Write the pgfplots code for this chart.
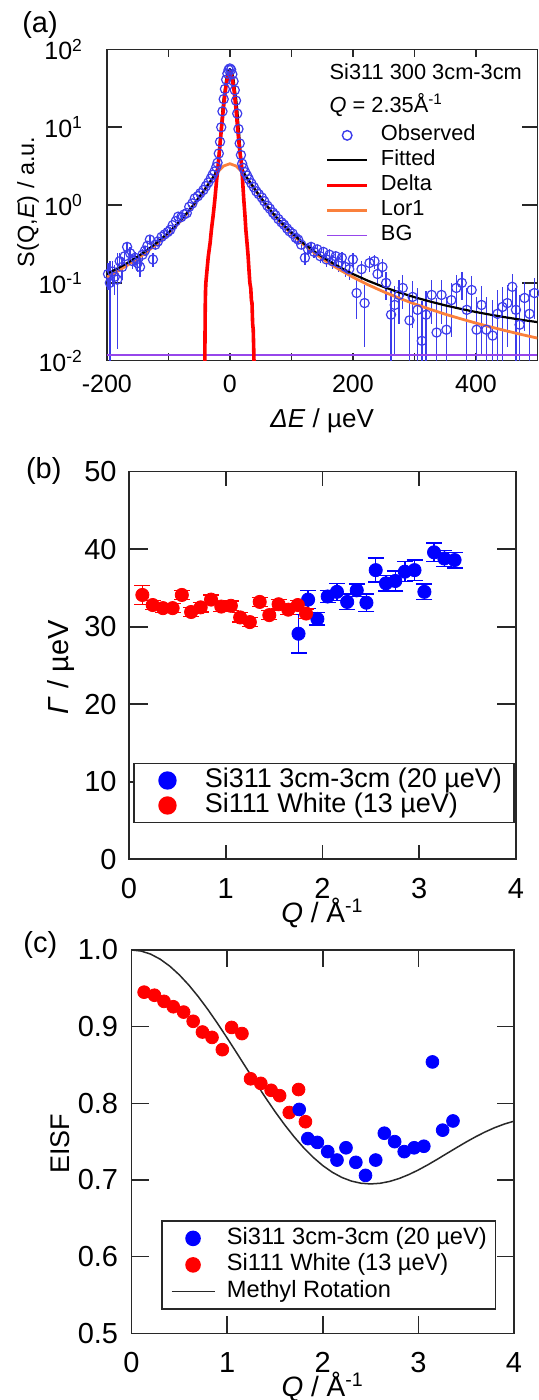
\documentclass[border=0pt]{standalone}
\usepackage{fontspec}
\setmainfont{Liberation Sans}
\setsansfont{Liberation Sans}
\usepackage{pgfplots}
\pgfplotsset{compat=1.18}
\definecolor{obsblue}{RGB}{60,60,235}
\definecolor{lorange}{RGB}{250,128,60}
\definecolor{bgpurple}{RGB}{150,70,235}
\definecolor{ptblue}{RGB}{0,0,255}
\definecolor{ptred}{RGB}{255,0,0}
\definecolor{axgray}{RGB}{40,40,40}

\pgfplotsset{
  panel/.style={scale only axis, anchor=south west,
    axis line style={axgray,line width=0.8pt},
    tick style={axgray,line width=0.8pt}, tick align=inside,
    clip marker paths=false},
}

\begin{document}
\begin{tikzpicture}
\useasboundingbox (0,0) rectangle (269pt,700pt);

% ---------------- (a) spectrum ----------------
\begin{axis}[panel,
  at={(53.4pt,519.65pt)}, width=215.35pt, height=155.6pt,
  ymode=log, xmin=-200, xmax=500, ymin=0.01, ymax=100,
  xtick={-200,-100,0,100,200,300,400}, xticklabels={-200,,0,,200,,400},
  ytick={0.01,0.1,1,10,100},
  yticklabels={10\textsuperscript{-2},10\textsuperscript{-1},10\textsuperscript{0},10\textsuperscript{1},10\textsuperscript{2}},
  yminorticks=false,
  major tick length=7.5pt,
  xtick style={/pgfplots/major tick length=4pt},
  tick label style={font=\fontsize{12.5}{15}\selectfont},
  xticklabel style={anchor=base, yshift=-16.15pt},
  yticklabel style={anchor=east, inner sep=0pt, xshift=-11.75pt},
  xlabel={\textit{ΔE} / µeV},
  xlabel style={at={(axis description cs:0.5,-0.216)}, anchor=base, font=\fontsize{13}{15}\selectfont},
  ylabel={S(Q,\textit{E}) / a.u.},
  ylabel style={at={(axis description cs:-0.183,0.51)}, anchor=center, font=\fontsize{11.7}{14}\selectfont},
  legend style={at={(axis description cs:0.5066,0.759)}, anchor=north west,
    draw=none, fill=none, inner sep=0pt, column sep=6pt, row sep=2pt,
    font=\fontsize{10.9}{12}\selectfont,
    nodes={inner sep=0pt, text height=8pt, text depth=2.5pt}},
  legend cell align=left,
]
\addlegendimage{legend image code/.code={\draw[obsblue,fill=none,line width=0.7pt] (10pt,0pt) circle (2.4pt); \path[draw=none,fill=none] (0pt,0pt) -- (20pt,0pt);}}
\addlegendentry{Observed}
\addlegendimage{legend image code/.code={\draw[black,line width=1.1pt] (0pt,0pt) -- (20pt,0pt);}}
\addlegendentry{Fitted}
\addlegendimage{legend image code/.code={\draw[ptred,line width=1.8pt] (0pt,0pt) -- (20pt,0pt);}}
\addlegendentry{Delta}
\addlegendimage{legend image code/.code={\draw[lorange,line width=1.4pt] (0pt,0pt) -- (20pt,0pt);}}
\addlegendentry{Lor1}
\addlegendimage{legend image code/.code={\draw[bgpurple,line width=0.7pt] (0pt,0pt) -- (20pt,0pt);}}
\addlegendentry{BG}

\addplot[forget plot, only marks, mark=o, mark size=2.3pt, obsblue,
  mark options={line width=0.6pt},
  error bars/.cd, y dir=both, y explicit, error mark=none,
  error bar style={obsblue, line width=0.7pt}]
  table[x=x, y=y, y error plus=ep, y error minus=em] {
x y ep em
-198 0.13 0.05 0.05
-195 0.10 0.09 0.095
-191 0.14 0.05 0.05
-187 0.12 0.05 0.05
-183 0.11 0.13 0.096
-179 0.19 0.05 0.05
-175 0.16 0.05 0.05
-171 0.22 0.045 0.045
-167 0.29 0.045 0.045
-162 0.24 0.045 0.045
-158 0.19 0.04 0.04
-154 0.21 0.04 0.04
-150 0.18 0.04 0.04
-146 0.16 0.04 0.04
-142 0.23 0.04 0.04
-138 0.26 0.04 0.04
-134 0.30 0.04 0.04
-130 0.36 0.04 0.04
-125 0.20 0.04 0.04
-121 0.31 0.04 0.04
-117 0.34 0.04 0.04
-111 0.39 0.04 0.04
-106 0.42 0.04 0.04
-101 0.45 0.04 0.04
-97 0.48 0.04 0.04
-93 0.55 0.04 0.04
-88 0.62 0.04 0.04
-84 0.71 0.04 0.04
-79 0.70 0.04 0.04
-74 0.76 0.04 0.04
-70 0.79 0.04 0.04
-66 0.95 0.05 0.05
-61 1.05 0.05 0.05
-57 1.22 0.05 0.05
-52 1.30 0.05 0.05
-48 1.42 0.05 0.05
-43 1.56 0.05 0.05
-39 1.75 0.05 0.05
-35 1.95 0.05 0.05
-31 2.2 0.06 0.06
-28 2.45 0.06 0.06
-25 2.7 0.06 0.06
-22 3.1 0.07 0.07
-20 3.5 0.07 0.07
-18 4.6 0.08 0.08
-16 6.5 0.1 0.1
-14 10 0.15 0.15
-12 16 0.2 0.2
-10 23 0.3 0.3
-8 31 0.4 0.4
-6 41 0.5 0.5
-4 49 0.6 0.6
-2 55 0.7 0.7
0 57 0.7 0.7
2 55 0.7 0.7
4 48 0.6 0.6
6 39 0.5 0.5
8 30 0.4 0.4
10 22 0.3 0.3
12 15 0.2 0.2
14 9.5 0.15 0.15
16 6.2 0.1 0.1
18 4.4 0.08 0.08
20 3.4 0.07 0.07
22 3.0 0.07 0.07
25 2.65 0.06 0.06
28 2.4 0.06 0.06
31 2.15 0.06 0.06
35 1.9 0.05 0.05
39 1.7 0.05 0.05
43 1.5 0.05 0.05
47 1.38 0.05 0.05
52 1.25 0.05 0.05
56 1.12 0.05 0.05
61 0.98 0.05 0.05
65 0.90 0.05 0.05
70 0.80 0.04 0.04
74 0.74 0.04 0.04
79 0.66 0.04 0.04
84 0.60 0.04 0.04
88 0.56 0.04 0.04
93 0.50 0.04 0.04
97 0.46 0.04 0.04
102 0.43 0.04 0.04
107 0.38 0.04 0.04
111 0.36 0.04 0.04
116 0.31 0.04 0.04
122 0.21 0.04 0.04
127 0.27 0.04 0.04
132 0.29 0.04 0.04
137 0.25 0.04 0.04
142 0.27 0.04 0.04
147 0.22 0.04 0.04
152 0.25 0.04 0.04
157 0.20 0.04 0.04
162 0.23 0.04 0.04
167 0.19 0.04 0.04
172 0.22 0.04 0.04
177 0.18 0.04 0.04
182 0.21 0.04 0.04
188 0.16 0.04 0.04
194 0.15 0.04 0.04
200 0.20 0.04 0.04
206 0.074 0.04 0.04
214 0.15 0.04 0.04
219 0.055 0.04 0.04
227 0.18 0.04 0.04
235 0.19 0.04 0.04
240 0.13 0.04 0.04
248 0.16 0.04 0.04
254 0.10 0.04 0.04
262 0.039 0.04 0.036
268 0.052 0.04 0.04
275 0.07 0.04 0.04
281 0.086 0.04 0.04
292 0.033 0.04 0.03
297 0.066 0.04 0.04
305 0.045 0.04 0.04
312 0.018 0.04 0.015
319 0.039 0.04 0.036
328 0.07 0.04 0.04
336 0.023 0.04 0.02
344 0.07 0.04 0.04
352 0.025 0.04 0.022
360 0.06 0.04 0.04
368 0.086 0.04 0.04
377 0.10 0.04 0.04
385 0.045 0.04 0.04
393 0.081 0.04 0.04
401 0.025 0.04 0.022
409 0.052 0.04 0.04
417 0.025 0.04 0.022
427 0.021 0.04 0.018
435 0.04 0.04 0.037
443 0.049 0.04 0.04
451 0.055 0.04 0.04
459 0.089 0.04 0.04
465 0.045 0.04 0.04
471 0.029 0.04 0.026
479 0.064 0.04 0.04
487 0.04 0.04 0.037
495 0.074 0.04 0.04
};
% BG
\addplot[forget plot, bgpurple, line width=0.7pt] coordinates {(-200,0.0118) (500,0.0118)};
% Lor1
\addplot[forget plot, lorange, line width=1.4pt] coordinates {
(-200,0.1185) (-180,0.1451) (-160,0.1815) (-140,0.2333) (-120,0.3099)
(-100,0.4290) (-90,0.5144) (-80,0.6259) (-70,0.7739) (-60,0.9734)
(-50,1.245) (-40,1.613) (-30,2.095) (-20,2.662) (-10,3.180) (0,3.4)
(10,3.180) (20,2.662) (30,2.095) (40,1.613) (50,1.245) (60,0.9734)
(70,0.7739) (80,0.6259) (90,0.5144) (100,0.4290) (120,0.3099)
(140,0.2333) (160,0.1815) (180,0.1451) (200,0.1185) (225,0.0943)
(250,0.0768) (275,0.0637) (300,0.0537) (325,0.0459) (350,0.0396)
(375,0.0346) (400,0.0304) (425,0.0270) (450,0.0241) (475,0.0216) (500,0.0195)
};
% Fitted
\addplot[forget plot, black, line width=1.1pt] coordinates {
(-200,0.130) (-180,0.157) (-160,0.193) (-140,0.245) (-120,0.322)
(-100,0.441) (-90,0.526) (-80,0.638) (-70,0.786) (-60,0.985)
(-50,1.257) (-40,1.625) (-30,2.11) (-24,2.5) (-21,2.85) (-19,3.3)
(-16,6.6) (-14,10.5) (-12,17) (-10,24) (-8,31) (-6,41) (-4,49) (-2,54)
(0,55) (2,54) (4,49) (6,41) (8,31) (10,24) (12,17) (14,10.5) (16,6.6)
(19,3.3) (21,2.85) (24,2.5) (30,2.11) (40,1.625) (50,1.257) (60,0.985)
(70,0.786) (80,0.638) (90,0.526) (100,0.441) (120,0.322) (140,0.245)
(160,0.193) (180,0.157) (200,0.130) (225,0.106) (250,0.0886)
(275,0.0755) (300,0.0655) (325,0.0577) (350,0.0514) (375,0.0464)
(400,0.0422) (425,0.0388) (450,0.0359) (475,0.0334) (500,0.0313)
};
% Delta
\addplot[forget plot, ptred, line width=1.8pt] coordinates {
(-41,0.005) (-40,0.05) (-39.5,0.08) (-39,0.1) (-37,0.15) (-35,0.22)
(-32,0.33) (-30,0.48) (-27,0.75) (-24.5,1.15) (-22,1.9) (-19,3.3)
(-16,6) (-13,11) (-10,19) (-7,31) (-4,43) (-2,49) (0,51) (2,49) (4,42)
(7,29) (10,17) (13,9) (16,5) (19,3.3) (21,1.9) (22.7,1.16) (24.5,0.75)
(26,0.48) (28,0.32) (29.7,0.22) (31,0.15) (32.5,0.1) (34,0.085)
(35,0.06) (36,0.055) (37,0.03) (38,0.025) (39,0.012) (40,0.005)
};
\node[anchor=base west, font=\fontsize{10.9}{12}\selectfont] at (rel axis cs:0.501,0.905) {Si311 300 3cm-3cm};
\node[anchor=base west, font=\fontsize{10.9}{12}\selectfont] at (rel axis cs:0.501,0.797) {\textit{Q} = 2.35Å\textsuperscript{-1}};
\end{axis}

% ---------------- (b) linewidth ----------------
\begin{axis}[panel,
  at={(64.5pt,270.35pt)}, width=193.5pt, height=193.8pt,
  xmin=0, xmax=4, ymin=0, ymax=50,
  xtick={0,1,2,3,4}, xticklabels={0,1,2,3,4},
  ytick={0,10,20,30,40,50}, yticklabels={0,10,20,30,40,50},
  major tick length=9.5pt,
  xtick style={/pgfplots/major tick length=7pt},
  tick label style={font=\fontsize{14.5}{17}\selectfont},
  xticklabel style={anchor=base, yshift=-19.85pt},
  yticklabel style={anchor=east, inner sep=0pt, xshift=-6pt},
  xlabel={\textit{Q} / Å\textsuperscript{-1}},
  xlabel style={at={(axis description cs:0.5,-0.1636)}, anchor=base, font=\fontsize{14}{16}\selectfont},
  ylabel={\textit{Γ} / µeV},
  ylabel style={at={(axis description cs:-0.176,0.496)}, anchor=center, font=\fontsize{14.5}{17}\selectfont},
  legend style={at={(axis description cs:0.0111,0.2492)}, anchor=north west,
    draw=axgray, line width=0.8pt, fill=white, inner xsep=5.95pt, inner ysep=2.5pt,
    column sep=7.9pt, row sep=0.5pt,
    font=\fontsize{13.5}{15}\selectfont,
    nodes={inner sep=0pt, text height=9.5pt, text depth=2.5pt}},
  legend cell align=left,
]
\addlegendimage{legend image code/.code={\fill[ptblue,draw=none] (10.75pt,0pt) circle (4.6pt); \path[draw=none,fill=none] (0pt,0pt) -- (21.5pt,0pt);}}
\addlegendentry{Si311 3cm-3cm (20 µeV)}
\addlegendimage{legend image code/.code={\fill[ptred,draw=none] (10.75pt,0pt) circle (4.6pt); \path[draw=none,fill=none] (0pt,0pt) -- (21.5pt,0pt);}}
\addlegendentry{Si111 White (13 µeV)}

\addplot[forget plot, only marks, mark=*, mark size=3.3pt, ptblue,
  error bars/.cd, y dir=both, y explicit,
  error bar style={ptblue, line width=0.7pt},
  error mark options={rotate=90, mark size=4pt, line width=0.7pt, ptblue}]
  table[x=q, y=g, y error=e] {
q g e
1.752 29.1 2.5
1.851 33.5 1.15
1.947 31.0 0.8
2.054 33.9 0.8
2.149 34.5 1.1
2.255 33.2 1.0
2.354 34.7 0.8
2.454 33.1 1.1
2.550 37.3 1.55
2.656 35.6 1.0
2.752 35.9 1.3
2.851 37.1 1.3
2.951 37.3 1.3
3.053 34.5 1.0
3.153 39.6 1.2
3.259 38.8 1.0
3.365 38.6 1.0
};
\addplot[forget plot, only marks, mark=*, mark size=3.3pt, ptred,
  error bars/.cd, y dir=both, y explicit,
  error bar style={ptred, line width=0.7pt},
  error mark options={rotate=90, mark size=4pt, line width=0.7pt, ptred}]
  table[x=q, y=g, y error=e] {
q g e
0.138 34.1 1.2
0.245 32.8 0.6
0.351 32.4 0.6
0.451 32.4 0.6
0.546 34.1 0.6
0.642 31.9 0.6
0.741 32.5 0.6
0.848 33.5 0.6
0.954 32.6 0.6
1.053 32.7 0.6
1.149 31.2 0.6
1.249 30.6 0.6
1.351 33.2 0.6
1.450 31.5 0.6
1.546 32.9 0.6
1.646 32.2 0.6
1.745 32.8 0.6
1.830 31.7 0.6
};
\end{axis}

% ---------------- (c) EISF ----------------
\begin{axis}[panel,
  at={(65.75pt,33.35pt)}, width=191.25pt, height=191.65pt,
  xmin=0, xmax=4, ymin=0.5, ymax=1.0,
  xtick={0,1,2,3,4}, xticklabels={0,1,2,3,4},
  ytick={0.5,0.6,0.7,0.8,0.9,1.0}, yticklabels={0.5,0.6,0.7,0.8,0.9,1.0},
  major tick length=8.5pt,
  tick label style={font=\fontsize{14.5}{17}\selectfont},
  xticklabel style={anchor=base, yshift=-19.35pt},
  yticklabel style={anchor=east, inner sep=0pt, xshift=-6.5pt},
  xlabel={\textit{Q} / Å\textsuperscript{-1}},
  xlabel style={at={(axis description cs:0.5,-0.166)}, anchor=base, font=\fontsize{14}{16}\selectfont},
  ylabel={EISF},
  ylabel style={at={(axis description cs:-0.187,0.494)}, anchor=center, font=\fontsize{13.5}{16}\selectfont},
  legend style={at={(axis description cs:0.0779,0.2956)}, anchor=north west,
    draw=axgray, line width=0.8pt, fill=white, inner xsep=4.35pt, inner ysep=2.8pt,
    column sep=5.85pt, row sep=1.25pt,
    font=\fontsize{11.8}{13}\selectfont,
    nodes={inner sep=0pt, text height=9pt, text depth=3pt}},
  legend cell align=left,
]
\addlegendimage{legend image code/.code={\fill[ptblue,draw=none] (10.75pt,0pt) circle (3.9pt); \path[draw=none,fill=none] (0pt,0pt) -- (21.5pt,0pt);}}
\addlegendentry{Si311 3cm-3cm (20 µeV)}
\addlegendimage{legend image code/.code={\fill[ptred,draw=none] (10.75pt,0pt) circle (3.9pt); \path[draw=none,fill=none] (0pt,0pt) -- (21.5pt,0pt);}}
\addlegendentry{Si111 White (13 µeV)}
\addlegendimage{legend image code/.code={\draw[axgray,line width=0.75pt] (0pt,0pt) -- (21.5pt,0pt);}}
\addlegendentry{Methyl Rotation}

\addplot[forget plot, axgray, line width=0.75pt] coordinates {
(0,1.0) (0.1,0.99865) (0.2,0.99464) (0.3,0.98803) (0.4,0.97896)
(0.5,0.96760) (0.6,0.95417) (0.7,0.93892) (0.8,0.92214) (0.9,0.90414)
(1.0,0.88525) (1.1,0.86582) (1.2,0.84619) (1.3,0.82670) (1.4,0.80769)
(1.5,0.78938) (1.6,0.77225) (1.7,0.75641) (1.8,0.74210) (1.9,0.72953)
(2.0,0.71881) (2.1,0.71005) (2.2,0.70329) (2.3,0.69854) (2.4,0.69575)
(2.5,0.69484) (2.6,0.69569) (2.7,0.69813) (2.8,0.70199) (2.9,0.70706)
(3.0,0.71310) (3.1,0.71988) (3.2,0.72718) (3.3,0.73475) (3.4,0.74222)
(3.5,0.74955) (3.6,0.75647) (3.7,0.76278) (3.8,0.76835) (3.9,0.77302)
(4.0,0.77672)
};
\addplot[forget plot, only marks, mark=*, mark size=3.2pt, ptred] table {
0.132 0.945
0.240 0.941
0.340 0.933
0.437 0.926
0.545 0.919
0.645 0.907
0.742 0.893
0.842 0.886
0.950 0.870
1.047 0.899
1.155 0.891
1.245 0.832
1.352 0.826
1.460 0.817
1.549 0.810
1.650 0.788
1.747 0.818
1.819 0.776
};
\addplot[forget plot, only marks, mark=*, mark size=3.2pt, ptblue] table {
1.754 0.792
1.844 0.754
1.944 0.749
2.052 0.737
2.149 0.726
2.243 0.742
2.346 0.723
2.447 0.706
2.554 0.726
2.644 0.761
2.752 0.750
2.852 0.737
2.956 0.742
3.057 0.744
3.147 0.854
3.254 0.765
3.362 0.777
};
\end{axis}

\node[font=\fontsize{14.5}{17}\selectfont] at (20pt,687.5pt) {(a)};
\node[font=\fontsize{14.5}{17}\selectfont] at (21.9pt,464.6pt) {(b)};
\node[font=\fontsize{14.5}{17}\selectfont] at (20.2pt,227.3pt) {(c)};
\end{tikzpicture}
\end{document}
